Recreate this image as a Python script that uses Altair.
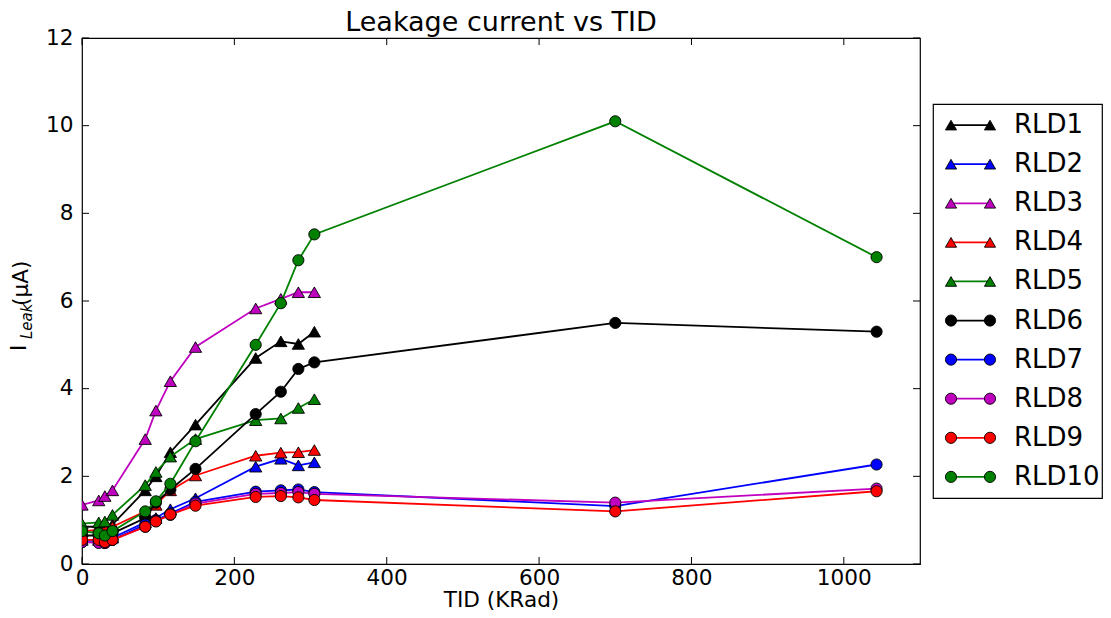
import altair as alt
import pandas as pd

# ---------------- data ----------------
tid_short = [0, 22, 30, 40, 83, 97, 116, 149, 228, 261, 284, 305]
tid_long = tid_short + [700, 1043]

rld1 = [0.85, 0.85, 0.85, 0.90, 1.68, 2.00, 2.55, 3.18, 4.70, 5.08, 5.02, 5.30]
rld2 = [0.55, 0.55, 0.55, 0.60, 0.95, 1.05, 1.25, 1.50, 2.22, 2.40, 2.25, 2.32]
rld3 = [1.35, 1.45, 1.55, 1.68, 2.85, 3.50, 4.17, 4.95, 5.83, 6.05, 6.20, 6.20]
rld4 = [0.75, 0.78, 0.80, 0.85, 1.20, 1.35, 1.68, 2.02, 2.47, 2.54, 2.55, 2.60]
rld5 = [0.92, 0.95, 0.97, 1.12, 1.80, 2.10, 2.45, 2.85, 3.28, 3.32, 3.56, 3.76]
rld6 = [0.65, 0.65, 0.60, 0.70, 1.05, 1.40, 1.70, 2.17, 3.42, 3.93, 4.45, 4.60, 5.50, 5.30]
rld7 = [0.50, 0.50, 0.48, 0.55, 0.90, 1.00, 1.15, 1.42, 1.65, 1.68, 1.70, 1.64, 1.32, 2.27]
rld8 = [0.50, 0.48, 0.48, 0.55, 0.85, 0.98, 1.12, 1.38, 1.60, 1.62, 1.64, 1.60, 1.40, 1.72]
rld9 = [0.55, 0.55, 0.50, 0.55, 0.85, 0.97, 1.13, 1.33, 1.53, 1.55, 1.52, 1.46, 1.20, 1.66]
rld10 = [0.75, 0.70, 0.65, 0.75, 1.20, 1.43, 1.83, 2.80, 5.00, 5.95, 6.93, 7.52, 10.10, 7.00]

names = ["RLD1", "RLD2", "RLD3", "RLD4", "RLD5", "RLD6", "RLD7", "RLD8", "RLD9", "RLD10"]
series_values = [rld1, rld2, rld3, rld4, rld5, rld6, rld7, rld8, rld9, rld10]
colors = ["#000000", "#0000ff", "#bf00bf", "#ff0000", "#008000",
          "#000000", "#0000ff", "#bf00bf", "#ff0000", "#008000"]
shapes = ["triangle-up"] * 5 + ["circle"] * 5

x_ticks = [0, 200, 400, 600, 800, 1000]
y_ticks = [0, 2, 4, 6, 8, 10, 12]
ylabel_parts = ["I", "Leak", "(\u03bcA)"]
title_text = "Leakage current vs TID"
xlabel_text = "TID (KRad)"

# ---------------- table ----------------
rows = []
for name, vals in zip(names, series_values):
    xs = tid_short if len(vals) == len(tid_short) else tid_long
    for xv, yv in zip(xs, vals):
        rows.append({"series": name, "tid": xv, "value": yv})
df = pd.DataFrame(rows)

FONT = "DejaVu Sans"
W, H = 838, 526

xscale = alt.Scale(domain=[0, 1100], nice=False, zero=False)
yscale = alt.Scale(domain=[0, 12], nice=False)
xaxis = alt.Axis(values=x_ticks, ticks=False, domain=False, grid=False, format="d",
                 labelFontSize=21.6, labelColor="black", labelFont=FONT, labelPadding=3,
                 title=xlabel_text, titleFontSize=21.6, titleFont=FONT,
                 titleFontWeight="normal", titleColor="black", titlePadding=1,
                 labelFlush=False)
yaxis = alt.Axis(values=y_ticks, ticks=False, domain=False, grid=False,
                 labelFontSize=21.6, labelColor="black", labelFont=FONT, labelPadding=9,
                 title=None, labelFlush=False)

X = alt.X("tid:Q", scale=xscale, axis=xaxis)
Y = alt.Y("value:Q", scale=yscale, axis=yaxis)

layers = []
for i, name in enumerate(names):
    base = alt.Chart(df).transform_filter(alt.datum.series == name)
    layers.append(base.mark_line(color=colors[i], strokeWidth=1.8, clip=True).encode(x=X, y=Y))
    layers.append(base.mark_point(shape=shapes[i], filled=True, fill=colors[i], stroke="black",
                                  strokeWidth=0.9, opacity=1, clip=True,
                                  size=150 if shapes[i] != "circle" else 125).encode(x=X, y=Y))

# inward ticks on all four sides
xt = pd.DataFrame({"tid": x_ticks})
yt = pd.DataFrame({"value": y_ticks})
tick_len = 7
layers.append(alt.Chart(xt).mark_rule(color="black", strokeWidth=1).encode(
    x=X, y=alt.value(H), y2=alt.value(H - tick_len)))
layers.append(alt.Chart(xt).mark_rule(color="black", strokeWidth=1).encode(
    x=X, y=alt.value(0), y2=alt.value(tick_len)))
layers.append(alt.Chart(yt).mark_rule(color="black", strokeWidth=1).encode(
    y=Y, x=alt.value(0), x2=alt.value(tick_len)))
layers.append(alt.Chart(yt).mark_rule(color="black", strokeWidth=1).encode(
    y=Y, x=alt.value(W), x2=alt.value(W - tick_len)))

# y-axis title with subscript
lab = pd.DataFrame({"t": ylabel_parts})
layers.append(alt.Chart(lab).transform_filter(alt.datum.t == ylabel_parts[0]).mark_text(
    angle=270, align="left", baseline="middle", fontSize=21.6, font=FONT, color="black").encode(
    x=alt.value(-62), y=alt.value(313), text="t:N"))
layers.append(alt.Chart(lab).transform_filter(alt.datum.t == ylabel_parts[1]).mark_text(
    angle=270, align="left", baseline="middle", fontSize=15, font=FONT, fontStyle="italic",
    color="black").encode(x=alt.value(-55), y=alt.value(301), text="t:N"))
layers.append(alt.Chart(lab).transform_filter(alt.datum.t == ylabel_parts[2]).mark_text(
    angle=270, align="left", baseline="middle", fontSize=21.6, font=FONT, color="black").encode(
    x=alt.value(-60), y=alt.value(268), text="t:N"))

main = alt.layer(*layers).properties(
    width=W, height=H,
    title=alt.TitleParams(title_text, fontSize=27, font=FONT, fontWeight="normal",
                          color="black", offset=-10, anchor="middle"))

# ---------------- legend panel ----------------
leg = pd.DataFrame({"series": names})
LY = alt.Y("series:N", sort=names, scale=alt.Scale(type="point", padding=0.54), axis=None)
cscale = alt.Scale(domain=names, range=colors)
sscale = alt.Scale(domain=names, range=shapes)
lbase = alt.Chart(leg)
leg_rule = lbase.mark_rule(strokeWidth=1.8).encode(
    x=alt.value(18), x2=alt.value(57), y=LY,
    color=alt.Color("series:N", scale=cscale, legend=None))
leg_p1 = lbase.mark_point(filled=True, stroke="black", strokeWidth=0.9, opacity=1, size=125).encode(
    x=alt.value(18), y=LY,
    fill=alt.Fill("series:N", scale=cscale, legend=None),
    shape=alt.Shape("series:N", scale=sscale, legend=None))
leg_p2 = lbase.mark_point(filled=True, stroke="black", strokeWidth=0.9, opacity=1, size=125).encode(
    x=alt.value(57), y=LY,
    fill=alt.Fill("series:N", scale=cscale, legend=None),
    shape=alt.Shape("series:N", scale=sscale, legend=None))
leg_text = lbase.mark_text(align="left", baseline="middle", fontSize=26, font=FONT,
                           color="black").encode(x=alt.value(81), y=LY, text="series:N")
legend = alt.layer(leg_rule, leg_p1, leg_p2, leg_text).resolve_scale(
    color="independent", fill="independent").properties(width=169, height=394)

chart = alt.hconcat(main, legend, spacing=13, center=True, bounds="flush").properties(
    padding=0, background="white"
).configure_view(stroke="black", strokeWidth=1.2)

chart.save("out.html", embed_options={"renderer": "svg", "actions": False})
